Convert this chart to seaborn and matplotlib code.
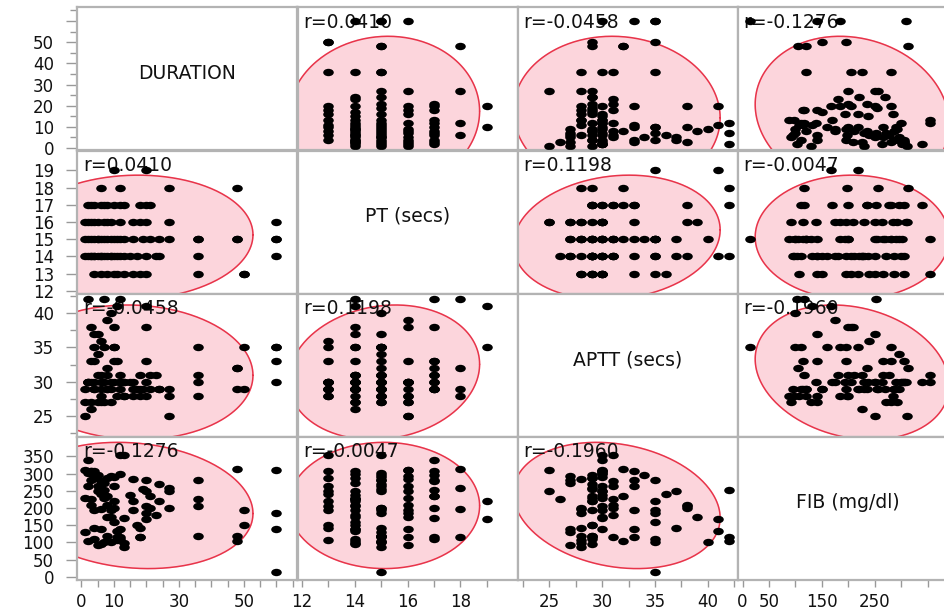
import numpy as np
import pandas as pd
import seaborn as sns
import matplotlib.pyplot as plt
from matplotlib.path import Path
from matplotlib.transforms import Affine2D

sns.set_style("white")
plt.rcParams['font.family'] = ['DejaVu Sans']

variables = ["DURATION", "PT (secs)", "APTT (secs)", "FIB (mg/dl)"]

# one row per patient, grouped by PT value
duration = [10, 20,
            48, 27, 12, 6,
            2, 3, 4, 6, 7, 8, 10, 12, 13, 18, 20, 21,
            1, 2, 3, 4, 5, 7, 8, 9, 12, 16, 18, 20, 27, 60,
            1, 2, 3, 4, 5, 5, 6, 7, 8, 9, 10, 11, 12, 13, 16, 19, 21, 24, 27, 36, 36, 48, 48, 60, 60,
            1, 2, 3, 3, 4, 4, 5, 6, 6, 7, 8, 9, 9, 10, 11, 12, 13, 15, 17, 20, 23, 24, 36, 60,
            4, 6, 8, 10, 11, 13, 16, 18, 20, 36, 50, 50]
pt = [19, 19,
      18, 18, 18, 18,
      17, 17, 17, 17, 17, 17, 17, 17, 17, 17, 17, 17,
      16, 16, 16, 16, 16, 16, 16, 16, 16, 16, 16, 16, 16, 16,
      15, 15, 15, 15, 15, 15, 15, 15, 15, 15, 15, 15, 15, 15, 15, 15, 15, 15, 15, 15, 15, 15, 15, 15, 15,
      14, 14, 14, 14, 14, 14, 14, 14, 14, 14, 14, 14, 14, 14, 14, 14, 14, 14, 14, 14, 14, 14, 14, 14,
      13, 13, 13, 13, 13, 13, 13, 13, 13, 13, 13, 13]
aptt = [35, 41,
        32, 29, 42, 28,
        30, 33, 29, 31, 42, 32, 38, 29, 30, 31, 33, 29,
        25, 30, 38, 33, 27, 30, 39, 27, 30, 28, 29, 28, 25, 30,
        27, 30, 27, 37, 31, 34, 30, 35, 29, 40, 30, 33, 31, 28, 30, 29, 31, 29, 28, 35, 28, 29, 32, 35, 35,
        29, 42, 30, 26, 29, 35, 37, 27, 29, 27, 31, 29, 30, 35, 41, 30, 28, 30, 29, 38, 31, 29, 31, 33,
        30, 36, 29, 33, 28, 30, 29, 28, 30, 30, 35, 29]
fib = [219, 168,
       313, 257, 117, 197,
       340, 306, 295, 277, 253, 235, 199, 110, 170, 117, 280, 236,
       311, 263, 209, 195, 92, 230, 175, 292, 138, 284, 115, 185, 250, 310,
       130, 301, 280, 141, 265, 295, 250, 100, 120, 100, 290, 115, 355, 88, 194, 255, 200, 270, 200, 280, 120, 120, 105, 15, 185,
       230, 103, 306, 225, 287, 110, 250, 140, 95, 272, 210, 195, 175, 160, 132, 300, 97, 238, 151, 206, 180, 220, 225, 140,
       306, 240, 287, 265, 107, 355, 219, 141, 250, 205, 195, 150]

# pairwise correlations as reported: (0,1) (0,2) (0,3) (1,2) (1,3) (2,3)
corr_values = [0.0410, -0.0458, -0.1276, 0.1198, -0.0047, -0.1960]
corr_labels = ["r=0.0410", "r=-0.0458", "r=-0.1276", "r=0.1198", "r=-0.0047", "r=-0.1960"]

df = pd.DataFrame({variables[0]: duration, variables[1]: pt,
                   variables[2]: aptt, variables[3]: fib})

pairs = [(0, 1), (0, 2), (0, 3), (1, 2), (1, 3), (2, 3)]
corr = {}
for (a, b), r, lab in zip(pairs, corr_values, corr_labels):
    corr[(a, b)] = (r, lab)
    corr[(b, a)] = (r, lab)

limits = [(-1.2, 66.5), (11.83, 20.16), (22.0, 42.8), (-9.5, 406.5)]

y_ticks = [[0, 10, 20, 30, 40, 50, 60], [12, 13, 14, 15, 16, 17, 18, 19],
           [25, 30, 35, 40], [0, 50, 100, 150, 200, 250, 300, 350]]
y_labels = [['0', '10', '20', '30', '40', '50', ''], ['12', '13', '14', '15', '16', '17', '18', '19'],
            ['25', '30', '35', '40'], ['0', '50', '100', '150', '200', '250', '300', '350']]
y_minor = [[5, 15, 25, 35, 45, 55, 65], [], [22.5, 27.5, 32.5, 37.5, 42.5], []]
x_ticks = [[0, 10, 20, 30, 40, 50, 60], [12, 14, 16, 18],
           [25, 30, 35, 40], [0, 50, 100, 150, 200, 250, 300, 350]]
x_labels = [['0', '10', '', '30', '', '50', ''], ['12', '14', '16', '18'],
            ['25', '30', '35', '40'], ['0', '50', '', '150', '', '250', '', '']]
x_minor = [[5, 15, 25, 35, 45, 55, 65], [13, 15, 17, 19], [22.5, 27.5, 32.5, 37.5, 42.5], []]

W, H = 945, 611
left0, top0, cw, rh = 77.5, 7.3, 220, 143.2
fig = plt.figure(figsize=(W / 100, H / 100), dpi=100)

oval = Path.unit_circle().transformed(Affine2D().scale(1.0, 0.7))
chi = np.sqrt(5.991)
t = np.linspace(0, 2 * np.pi, 300)
grid_col = '#b3b3b3'

for i in range(4):
    for j in range(4):
        l = left0 + j * cw
        tp = top0 + i * rh
        ax = fig.add_axes([l / W, 1 - (tp + rh) / H, cw / W, rh / H])
        ax.set_xlim(*limits[j])
        ax.set_ylim(*limits[i])
        for s in ax.spines.values():
            s.set_color(grid_col)
            s.set_linewidth(1.6)
        if i == j:
            ax.text(0.5, 0.54, variables[i], transform=ax.transAxes,
                    ha='center', va='center', fontsize=13.5, color='#111111')
        else:
            xv, yv = variables[j], variables[i]
            r, lab = corr[(i, j)]
            mx, my = df[xv].mean(), df[yv].mean()
            sx, sy = df[xv].std(), df[yv].std()
            ex = mx + chi * sx * np.cos(t)
            ey = my + chi * sy * (r * np.cos(t) + np.sqrt(1 - r * r) * np.sin(t))
            ax.fill(ex, ey, color='#fcd5dc', zorder=1)
            ax.plot(ex, ey, color='#e8344a', lw=1.1, zorder=2)
            ax.text(0.027, 0.895, lab, transform=ax.transAxes, ha='left', va='center',
                    fontsize=13.5, color='#111111', zorder=2.5)
            sns.scatterplot(data=df, x=xv, y=yv, ax=ax, marker=oval, s=58,
                            color='black', linewidth=0, legend=False, zorder=3)
        ax.set_xlabel('')
        ax.set_ylabel('')
        if j == 0:
            ax.set_yticks(y_ticks[i])
            ax.set_yticklabels(y_labels[i])
            ax.set_yticks(y_minor[i], minor=True)
            ax.tick_params(axis='y', which='major', length=8, width=1, color='#999999',
                           pad=9, labelsize=12, labelcolor='#111111', left=True)
            ax.tick_params(axis='y', which='minor', length=5, width=1, color='#999999', left=True)
        else:
            ax.set_yticks([])
        if i == 3:
            ax.set_xticks(x_ticks[j])
            ax.set_xticklabels(x_labels[j])
            ax.set_xticks(x_minor[j], minor=True)
            ax.tick_params(axis='x', which='major', length=5, width=1, color='#999999',
                           pad=4, labelsize=12, labelcolor='#111111', bottom=True)
            ax.tick_params(axis='x', which='minor', length=5, width=1, color='#999999', bottom=True)
        else:
            ax.set_xticks([])

fig.savefig("out.png", dpi=100)
